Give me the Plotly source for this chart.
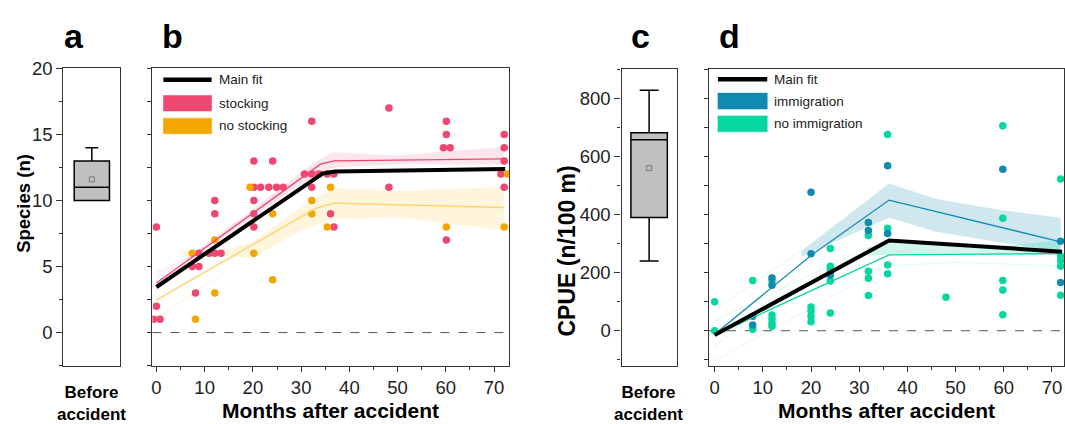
import plotly.graph_objects as go

W, H = 1065, 424
FONT = "Liberation Sans, Arial, sans-serif"

# ---------------- data: panel a / c (before accident box stats) ----------------
a_stats = dict(q1=10, median=11, q3=13, lowerfence=10, upperfence=14, mean=11.6)
c_stats = dict(q1=390, median=658, q3=682, lowerfence=240, upperfence=828, mean=560)

# ---------------- data: panel b (species) ----------------
stock_x = [0, 0, -0.6, 0.75, 7.45, 8.8, 8.1, 8.8, 10.9, 12.1, 13.4, 12.1, 12.1,
           20.2, 21.6, 23.3, 24.9, 26.3, 20.2, 24.1, 20.2, 20.2, 20.2,
           32.2, 30.7, 32.2, 33.7, 35.4, 36.8, 32.2, 36.1, 36.8,
           48.2, 48.2, 60.1, 60.1, 59.5, 60.9, 60.1,
           72.1, 72.1, 72.1, 71.4, 72.1]
stock_y = [8, 2, 1, 1, 5, 5, 3, 6, 6, 6, 6, 10, 9,
           11, 11, 11, 11, 11, 13, 13, 10, 9, 8,
           16, 12, 12, 12, 12, 12, 11, 9, 8,
           17, 11, 16, 15, 14, 14, 7,
           15, 14, 13, 12, 11]
nostock_x = [7.45, 8.1, 12.1, 12.1, 19.4, 20.2, 24.1, 24.1, 32.2, 32.2, 35.4, 36.1, 60.1, 72.8, 72.1]
nostock_y = [6, 1, 7, 3, 11, 6, 9, 4, 10, 9, 8, 11, 8, 12, 8]

main_b_x = [0, 32, 34.5, 37, 72.3]
main_b_y = [3.45, 11.5, 12.05, 12.2, 12.38]
stock_fit_x = [0, 34, 36.8, 72]
stock_fit_y = [3.75, 12.75, 13.0, 13.15]
nostock_fit_x = [0, 33, 36.8, 72]
nostock_fit_y = [2.46, 9.4, 9.8, 9.47]

stock_band_x = [6, 20.2, 33, 36.8, 50, 72]
stock_band_hi = [5.6, 9.4, 12.95, 13.65, 13.4, 14.07]
stock_band_lo = [5.2, 8.8, 11.9, 12.5, 12.75, 12.7]
stock_faint_x = [0, 6]
stock_faint_hi = [4.55, 5.6]
stock_faint_lo = [3.2, 5.2]

nostock_band_x = [5.5, 14, 20.2, 29.9, 36.8, 50, 72]
nostock_band_hi = [6.2, 6.2, 6.9, 9.47, 10.95, 10.7, 11.07]
nostock_band_lo = [5.8, 5.8, 5.65, 7.75, 8.6, 8.74, 7.75]
nostock_faint_x = [0, 14]
nostock_faint_lo = [1.1, 4.5]

# ---------------- data: panel d (CPUE) ----------------
imm_x = [7.9, 7.9, 11.9, 11.9, 20, 20, 24, 31.9, 31.9, 35.9, 35.9, 59.8, 71.8, 71.8]
imm_y = [50, 20, 182, 157, 477, 265, 192, 373, 345, 568, 335, 556, 308, 166]
noimm_x = [0, 0, 7.9, 7.9, 11.9, 11.9, 11.9, 11.9, 11.9,
           20, 20, 20, 20, 24, 24, 24, 24, 24,
           31.9, 31.9, 31.9, 31.9, 35.9, 35.9, 35.9, 35.9, 48,
           59.8, 59.8, 59.8, 59.8, 59.8, 71.8, 71.8, 71.8, 71.8, 71.8]
noimm_y = [100, 0, 173, 5, 170, 54, 40, 26, 15,
           82, 67, 50, 31, 283, 222, 209, 171, 61,
           328, 205, 181, 121, 676, 353, 226, 196, 115,
           706, 387, 173, 140, 55, 523, 257, 241, 222, 122]

main_d_x = [0, 36.2, 72.1]
main_d_y = [-15, 311, 272]
imm_fit_x = [0, 20.2, 36.2, 71.8]
imm_fit_y = [-12, 262, 450, 306]
noimm_fit_x = [0, 36.2, 72]
noimm_fit_y = [-15, 261, 266]

imm_band_x = [18, 36.2, 46, 60, 71.8]
imm_band_hi = [275, 507, 454, 414, 389]
imm_band_lo = [255, 389, 341, 302, 274]
imm_faint_x = [0, 18]
imm_faint_hi = [73, 275]
imm_faint_lo = [-56, 200]

noimm_band_x = [31.7, 36.2, 60, 71.8]
noimm_band_hi = [287, 300, 292, 312]
noimm_band_lo = [257, 262, 262, 262]
noimm_faint_hi_x = [0, 31.7]
noimm_faint_hi = [34, 287]
noimm_faint_lo_x = [0, 36.2, 50, 71.8]
noimm_faint_lo = [-103, 224, 235, 224]

# colours
PINK = "#EF476F"
ORANGE = "#F3A600"
ORANGE_LINE = "#FFD166"
BLUE = "#118AB2"
GREEN = "#06D6A0"


def px(x):
    return x / W


def py(y):
    return 1 - y / H


fig = go.Figure()


def band(xs, hi, lo, color, xa, ya):
    fig.add_trace(go.Scatter(x=list(xs) + list(xs)[::-1], y=list(hi) + list(lo)[::-1],
                             fill="toself", fillcolor=color, mode="lines",
                             line=dict(width=0), hoverinfo="skip", showlegend=False,
                             xaxis=xa, yaxis=ya))


def line(xs, ys, color, width, xa, ya):
    fig.add_trace(go.Scatter(x=xs, y=ys, mode="lines", line=dict(color=color, width=width),
                             hoverinfo="skip", showlegend=False, xaxis=xa, yaxis=ya))


def pts(xs, ys, color, xa, ya):
    fig.add_trace(go.Scatter(x=xs, y=ys, mode="markers",
                             marker=dict(color=color, size=7.5, line=dict(width=0)),
                             showlegend=False, xaxis=xa, yaxis=ya))


# ---- panel a box ----
fig.add_trace(go.Box(x=[0], q1=[a_stats["q1"]], median=[a_stats["median"]], q3=[a_stats["q3"]],
                     lowerfence=[a_stats["lowerfence"]], upperfence=[a_stats["upperfence"]],
                     width=0.62, whiskerwidth=0.36, fillcolor="#C0C0C0",
                     line=dict(color="black", width=1.5), boxpoints=False,
                     showlegend=False, xaxis="x", yaxis="y"))
fig.add_trace(go.Scatter(x=[0], y=[a_stats["mean"]], mode="markers",
                         marker=dict(symbol="square-open", size=5, color="#777777", line=dict(width=1)),
                         showlegend=False, xaxis="x", yaxis="y"))

# ---- panel b ----
band(stock_faint_x, stock_faint_hi, stock_faint_lo, "rgba(239,71,111,0.05)", "x2", "y2")
line(stock_faint_x, stock_faint_hi, "rgba(239,71,111,0.12)", 1, "x2", "y2")
line(stock_faint_x, stock_faint_lo, "rgba(239,71,111,0.12)", 1, "x2", "y2")
line(nostock_faint_x, nostock_faint_lo, "rgba(255,209,102,0.25)", 1, "x2", "y2")
band(nostock_band_x, nostock_band_hi, nostock_band_lo, "rgba(255,209,102,0.22)", "x2", "y2")
band(stock_band_x, stock_band_hi, stock_band_lo, "rgba(239,71,111,0.14)", "x2", "y2")
pts(stock_x, stock_y, PINK, "x2", "y2")
pts(nostock_x, nostock_y, ORANGE, "x2", "y2")
line(stock_fit_x, stock_fit_y, PINK, 1.3, "x2", "y2")
line(nostock_fit_x, nostock_fit_y, ORANGE_LINE, 1.3, "x2", "y2")
line(main_b_x, main_b_y, "black", 4, "x2", "y2")

# ---- panel c box ----
fig.add_trace(go.Box(x=[0], q1=[c_stats["q1"]], median=[c_stats["median"]], q3=[c_stats["q3"]],
                     lowerfence=[c_stats["lowerfence"]], upperfence=[c_stats["upperfence"]],
                     width=0.66, whiskerwidth=0.52, fillcolor="#C0C0C0",
                     line=dict(color="black", width=1.5), boxpoints=False,
                     showlegend=False, xaxis="x3", yaxis="y3"))
fig.add_trace(go.Scatter(x=[0], y=[c_stats["mean"]], mode="markers",
                         marker=dict(symbol="square-open", size=5, color="#777777", line=dict(width=1)),
                         showlegend=False, xaxis="x3", yaxis="y3"))

# ---- panel d ----
line(imm_faint_x, imm_faint_hi, "rgba(17,138,178,0.10)", 1, "x4", "y4")
line(imm_faint_x, imm_faint_lo, "rgba(17,138,178,0.10)", 1, "x4", "y4")
line(noimm_faint_hi_x, noimm_faint_hi, "rgba(6,214,160,0.12)", 1, "x4", "y4")
line(noimm_faint_lo_x, noimm_faint_lo, "rgba(6,214,160,0.12)", 1, "x4", "y4")
band(imm_band_x, imm_band_hi, imm_band_lo, "rgba(17,138,178,0.2)", "x4", "y4")
band(noimm_band_x, noimm_band_hi, noimm_band_lo, "rgba(6,214,160,0.2)", "x4", "y4")
pts(noimm_x, noimm_y, GREEN, "x4", "y4")
pts(imm_x, imm_y, BLUE, "x4", "y4")
line(imm_fit_x, imm_fit_y, BLUE, 1.3, "x4", "y4")
line(noimm_fit_x, noimm_fit_y, GREEN, 1.3, "x4", "y4")
line(main_d_x, main_d_y, "black", 4, "x4", "y4")

AXC = "#333333"
tickfont = dict(family=FONT, size=18.5, color="#222222")

common_frame = dict(showline=True, linecolor=AXC, linewidth=1.3, mirror=True,
                    showgrid=False, zeroline=False)

yb_dom = [py(364), py(59)]
yd_dom = [py(364), py(60)]

fig.update_layout(
    width=W, height=H, autosize=False,
    margin=dict(l=0, r=0, t=0, b=0),
    paper_bgcolor="white", plot_bgcolor="white",
    font=dict(family=FONT, color="#222222"),
    xaxis=dict(domain=[px(62.5), px(119.5)], range=[-0.5, 0.5], showticklabels=False,
               ticks="", anchor="y", **common_frame),
    yaxis=dict(domain=yb_dom, range=[-2.5, 20], tickvals=[0, 5, 10, 15, 20], ticks="outside",
               ticklen=6, tickcolor=AXC, tickfont=tickfont, anchor="x",
               minor=dict(dtick=2.5, ticks="outside", ticklen=3, tickcolor=AXC, showgrid=False),
               **common_frame),
    xaxis2=dict(domain=[px(151.7), px(509)], range=[-0.83, 73.1], tickvals=[0, 10, 20, 30, 40, 50, 60, 70],
                ticks="outside", ticklen=5, tickcolor=AXC, tickfont=tickfont, anchor="y2",
                minor=dict(dtick=5, ticks="outside", ticklen=3, tickcolor=AXC, showgrid=False),
                **common_frame),
    yaxis2=dict(domain=yb_dom, range=[-2.5, 20], dtick=2.5, ticks="outside", ticklen=4,
                tickcolor=AXC, showticklabels=False, anchor="x2", **common_frame),
    xaxis3=dict(domain=[px(621.7), px(677)], range=[-0.5, 0.5], showticklabels=False,
                ticks="", anchor="y3", **common_frame),
    yaxis3=dict(domain=yd_dom, range=[-120, 900], tickvals=[0, 200, 400, 600, 800], ticks="outside",
                ticklen=6, tickcolor=AXC, tickfont=tickfont, anchor="x3",
                minor=dict(dtick=100, ticks="outside", ticklen=3, tickcolor=AXC, showgrid=False),
                **common_frame),
    xaxis4=dict(domain=[px(709.3), 1.0], range=[-1.18, 72.5], tickvals=[0, 10, 20, 30, 40, 50, 60, 70],
                ticks="outside", ticklen=5, tickcolor=AXC, tickfont=tickfont, anchor="y4",
                minor=dict(dtick=5, ticks="outside", ticklen=3, tickcolor=AXC, showgrid=False),
                **common_frame),
    yaxis4=dict(domain=yd_dom, range=[-120, 900], dtick=100, ticks="outside", ticklen=4,
                tickcolor=AXC, showticklabels=False, anchor="x4", **common_frame),
)

shapes = []
# zero reference lines
for xr, yr in (("x2 domain", "y2"), ("x4 domain", "y4")):
    shapes.append(dict(type="line", xref=xr, yref=yr, x0=0, x1=1, y0=0, y1=0,
                       line=dict(color="#555555", width=1, dash="dash"), layer="below"))


# manual legends
def legend(x0, x1, yline, rects, labels, tx):
    shapes.append(dict(type="line", xref="paper", yref="paper", x0=px(x0), x1=px(x1),
                       y0=py(yline), y1=py(yline), line=dict(color="black", width=4.5)))
    anns = [dict(x=px(tx), y=py(yline), xref="paper", yref="paper", text=labels[0],
                 showarrow=False, xanchor="left", yanchor="middle",
                 font=dict(family=FONT, size=13.5, color="#222222"))]
    for (ya, yb, col), lab in zip(rects, labels[1:]):
        shapes.append(dict(type="rect", xref="paper", yref="paper", x0=px(x0), x1=px(x1),
                           y0=py(yb), y1=py(ya), fillcolor=col, line=dict(width=0.5, color=col)))
        anns.append(dict(x=px(tx), y=py((ya + yb) / 2), xref="paper", yref="paper", text=lab,
                         showarrow=False, xanchor="left", yanchor="middle",
                         font=dict(family=FONT, size=13.5, color="#222222")))
    return anns


annotations = []
annotations += legend(162.7, 211, 70.7, [(86.7, 102.7, PINK), (110, 126, ORANGE)],
                      ["Main fit", "stocking", "no stocking"], 216)
annotations += legend(718.3, 767.7, 70, [(84.3, 100.7, BLUE), (107.7, 124, GREEN)],
                      ["Main fit", "immigration", "no immigration"], 772)

# panel letters
for letter, x in (("a", 72.7), ("b", 172), ("c", 640.5), ("d", 730)):
    annotations.append(dict(x=px(x), y=py(26), xref="paper", yref="paper", text="<b>%s</b>" % letter,
                            showarrow=False, xanchor="center", yanchor="middle",
                            font=dict(family=FONT, size=34, color="black")))

# axis titles
annotations.append(dict(x=px(23), y=py(197), xref="paper", yref="paper", text="<b>Species (n)</b>",
                        textangle=-90, showarrow=False, xanchor="center", yanchor="middle",
                        font=dict(family=FONT, size=18.5, color="black")))
annotations.append(dict(x=px(567), y=py(246), xref="paper", yref="paper", text="<b>CPUE (n/100 m)</b>",
                        textangle=-90, showarrow=False, xanchor="center", yanchor="middle",
                        font=dict(family=FONT, size=23, color="black")))
for x in (330, 887):
    annotations.append(dict(x=px(x), y=py(410), xref="paper", yref="paper",
                            text="<b>Months after accident</b>", showarrow=False,
                            xanchor="center", yanchor="middle",
                            font=dict(family=FONT, size=21, color="black")))
for x in (91, 649):
    annotations.append(dict(x=px(x), y=py(403), xref="paper", yref="paper",
                            text="<b>Before</b><br><b>accident</b>", showarrow=False,
                            xanchor="center", yanchor="middle",
                            font=dict(family=FONT, size=17, color="black")))

fig.update_layout(shapes=shapes, annotations=annotations)

fig.write_html("out.html", config={"displayModeBar": False},
               post_script="document.body.style.margin='0';")
